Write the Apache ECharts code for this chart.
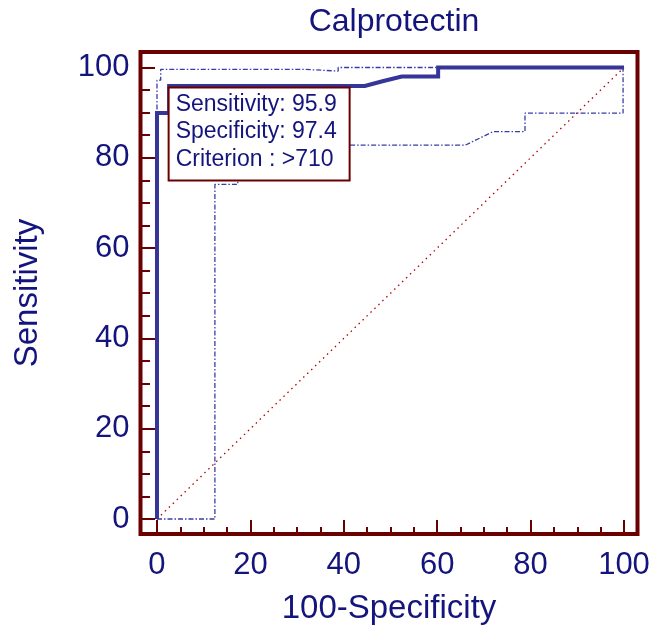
<!DOCTYPE html>
<html>
<head>
<meta charset="utf-8">
<script src="https://cdn.jsdelivr.net/npm/echarts@6.0.0/dist/echarts.min.js"></script>
<style>
  html, body { margin: 0; padding: 0; background: #fff; }
  #chart { width: 653px; height: 633px; }
</style>
</head>
<body>
<div id="chart"></div>
<script>
// ROC curve (100-Specificity, Sensitivity)
const rocX = [0, 0, 2.6, 2.6, 44.5, 48.5, 52.4, 60.2, 60.2, 100];
const rocY = [0, 89.9, 89.9, 95.9, 95.9, 97.0, 98.0, 98.0, 100, 100];

// confidence bounds
const upperX = [0, 0, 0.8, 0.8, 31.3, 31.3, 38.8, 38.8, 100];
const upperY = [0, 97.2, 97.2, 99.6, 99.6, 99.2, 99.2, 100, 100];
const lowerX = [0, 12.4, 12.4, 17.3, 17.3, 66, 72, 78.8, 78.8, 99.8, 99.8, 100];
const lowerY = [0, 0, 74.1, 74.1, 82.8, 82.8, 85.8, 85.8, 89.9, 89.9, 100, 100];

// reference diagonal
const diagX = [0, 100];
const diagY = [0, 100];

// criterion point and box text
const criterion = [2.6, 95.9];
const boxLines = ['Sensitivity: 95.9', 'Specificity: 97.4', 'Criterion : >710'];

const majorTicks = [0, 20, 40, 60, 80, 100];
const minorTicks = [5, 10, 15, 25, 30, 35, 45, 50, 55, 65, 70, 75, 85, 90, 95];

var frame = '#6b0000';
var navy = '#14147d';
var font = 'Liberation Sans, Arial, sans-serif';

function pairs(xs, ys) { return xs.map((x, i) => [x, ys[i]]); }

var chartDom = document.getElementById('chart');
var myChart = echarts.init(chartDom);

function axisBase(min, max) {
    return {
        type: 'value', min: min, max: max,
        axisLine: { show: false, onZero: false },
        splitLine: { show: false }
    };
}

var xMin = -3.53, xMax = 102.89, yMin = -3.32, yMax = 103.43;

var option = {
    animation: false,
    backgroundColor: '#fff',
    title: {
        text: 'Calprotectin',
        left: 389, top: 1, textAlign: 'center',
        textStyle: { color: navy, fontSize: 32, fontWeight: 'normal', fontFamily: font }
    },
    grid: {
        left: 140.5, top: 52, right: 15.5, bottom: 99,
        show: true, borderColor: frame, borderWidth: 4, backgroundColor: '#fff'
    },
    xAxis: [
        Object.assign(axisBase(xMin, xMax), {
            position: 'bottom',
            name: '100-Specificity', nameLocation: 'middle', nameGap: 58,
            nameTextStyle: { color: navy, fontSize: 33, fontFamily: font },
            axisTick: { show: true, inside: true, length: 14, customValues: majorTicks,
                lineStyle: { color: frame, width: 2 } },
            axisLabel: { color: navy, fontSize: 31, fontFamily: font, margin: 16, customValues: majorTicks }
        }),
        Object.assign(axisBase(xMin, xMax), {
            position: 'bottom',
            axisTick: { show: true, inside: true, length: 7, customValues: minorTicks,
                lineStyle: { color: frame, width: 2 } },
            axisLabel: { show: false }
        })
    ],
    yAxis: [
        Object.assign(axisBase(yMin, yMax), {
            position: 'left',
            name: 'Sensitivity', nameLocation: 'middle', nameGap: 96, nameRotate: 90,
            nameTextStyle: { color: navy, fontSize: 33, fontFamily: font },
            axisTick: { show: true, inside: true, length: 14.5, customValues: majorTicks,
                lineStyle: { color: frame, width: 2 } },
            axisLabel: { color: navy, fontSize: 31, fontFamily: font, margin: 11, customValues: majorTicks }
        }),
        Object.assign(axisBase(yMin, yMax), {
            position: 'left',
            axisTick: { show: true, inside: true, length: 9.5, customValues: minorTicks,
                lineStyle: { color: frame, width: 2 } },
            axisLabel: { show: false }
        })
    ],
    series: [
        {
            name: 'diagonal', type: 'line', data: pairs(diagX, diagY),
            symbol: 'none', silent: true,
            lineStyle: { color: '#b00000', width: 1.3, type: [1.5, 4] }
        },
        {
            name: 'lower', type: 'line', data: pairs(lowerX, lowerY),
            symbol: 'none', silent: true,
            lineStyle: { color: '#3b3ba8', width: 1.3, type: [5, 2, 1.5, 2] }
        },
        {
            name: 'upper', type: 'line', data: pairs(upperX, upperY),
            symbol: 'none', silent: true,
            lineStyle: { color: '#3b3ba8', width: 1.3, type: [5, 2, 1.5, 2] }
        },
        {
            name: 'ROC', type: 'line', data: pairs(rocX, rocY),
            symbol: 'none', silent: true, z: 3,
            lineStyle: { color: '#35359a', width: 4, join: 'miter' }
        },
        {
            // criterion box anchored at the criterion point
            type: 'custom', z: 10, silent: true,
            data: [criterion],
            renderItem: function (params, api) {
                var p = api.coord([api.value(0), api.value(1)]);
                var x0 = p[0] - 0.5, y0 = p[1] + 1.5;
                return {
                    type: 'group',
                    children: [
                        { type: 'rect', shape: { x: x0, y: y0, width: 181, height: 93 },
                          style: { fill: '#fff', stroke: frame, lineWidth: 2 } },
                        { type: 'text', x: x0 + 7, y: y0 + 3,
                          style: { text: boxLines.join('\n'), fill: navy, font: '23px ' + font,
                                   lineHeight: 27.5, verticalAlign: 'top', align: 'left' } }
                    ]
                };
            }
        }
    ]
};

myChart.setOption(option);
window.addEventListener('resize', () => myChart.resize());
</script>
</body>
</html>
